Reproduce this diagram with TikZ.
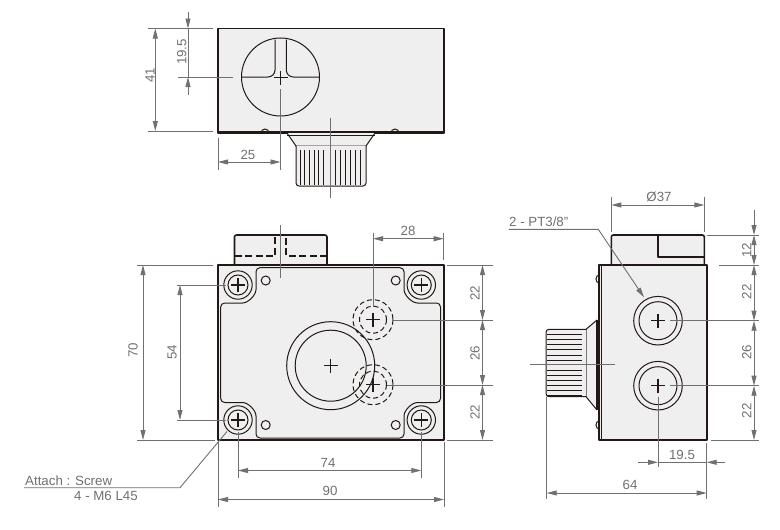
\documentclass[tikz,border=0pt]{standalone}
\usepackage{fontspec}
\setmainfont{Liberation Sans}
\usetikzlibrary{arrows.meta}
\definecolor{dimgray}{HTML}{6F7072}
\definecolor{bodygray}{HTML}{EFEFEF}
\definecolor{inkline}{HTML}{231815}
\tikzset{
  outline/.style={draw=inkline,line width=1.6pt,line join=round},
  thinline/.style={draw=inkline,line width=1pt},
  dimline/.style={draw=dimgray,line width=0.9pt,>={Stealth[length=10pt,width=5pt,inset=0pt]}},
  dimlabel/.style={text=dimgray,font=\fontsize{13.3}{15}\selectfont,inner sep=0pt},
  crosshair/.style={draw=inkline,line width=1.3pt}
}
\newcommand{\crossat}[2]{\draw[crosshair] (#1-7,#2) -- (#1+7,#2) (#1,#2-7) -- (#1,#2+7);}
\begin{document}
\begin{tikzpicture}[x=1pt,y=-1pt]
  \useasboundingbox (0,0) rectangle (780,530);
  % top view
  \draw[outline,fill=bodygray] (218,28.5) rectangle (444,133);
  \draw[outline] (218,131.5) -- (444,131.5);
  \draw[thinline] (261,133) arc[start angle=180,end angle=0,x radius=4,y radius=-4];
  \draw[thinline] (391,133) arc[start angle=180,end angle=0,x radius=4,y radius=-4];
  \draw[thinline,fill=bodygray] (287,133) -- (296,146) -- (366,146) -- (375,133);
  \draw[thinline] (287,135) -- (375,135);
  \draw[thinline,fill=bodygray,rounded corners=3pt] (296,146) -- (296,186) -- (366,186) -- (366,146);
  \foreach \xr in {300,304.7,309.4,314.1,318.8,323.5,335.5,340.5,345.5,350.5,355.5,360.5}
    \draw[draw=inkline,line width=1pt] (\xr,150) -- (\xr,185);
  \draw[thinline] (280.5,77) circle (39);
  \draw[thinline,rounded corners=7pt] (241.5,77) -- (275,77) -- (275,39.5);
  \draw[thinline,rounded corners=7pt] (319.5,77) -- (286.3,77) -- (286.3,39.5);
  \crossat{280.5}{77.5}
  % front view
  \draw[outline,fill=bodygray,rounded corners=2pt] (234.5,265) -- (234.5,235) -- (327,235) -- (327,265);
  \draw[outline,dashed,dash pattern=on 7pt off 3.5pt] (234.5,256) -- (275,256) -- (275,236);
  \draw[outline,dashed,dash pattern=on 7pt off 3.5pt] (327,256) -- (286,256) -- (286,236);
  \draw[outline,fill=bodygray] (218,265) rectangle (444,440);
  \draw[thinline,rounded corners=4pt] (256,267.7) -- (404,267.7) -- (404,285.5)
    arc[start angle=180,end angle=90,radius=17.5] -- (440.5,303) -- (440.5,402.5) -- (421.5,402.5)
    arc[start angle=270,end angle=180,radius=17.5] -- (404,438) -- (256,438) -- (256,420)
    arc[start angle=0,end angle=-90,radius=17.5] -- (220.7,402.5) -- (220.7,303) -- (238.5,303)
    arc[start angle=90,end angle=0,radius=17.5] -- cycle;
  \foreach \xs/\ys in {238/285,238/420,421.3/285,421.3/420} {
    \draw[thinline] (\xs,\ys) circle (14.2);
    \draw[thinline] (\xs,\ys) circle (10);
    \crossat{\xs}{\ys}
  }
  \foreach \xs/\ys in {265.7/280.5,395.7/280.5,265.7/425,395.7/425}
    \draw[thinline] (\xs,\ys) circle (4.5);
  \draw[thinline] (330.7,365.7) circle (44);
  \draw[thinline] (330.7,365.7) circle (35.5);
  \crossat{330.7}{365.7}
  \foreach \ys in {319.7,384.7} {
    \draw[thinline,dashed,dash pattern=on 5pt off 3pt] (373,\ys) circle (20);
    \draw[thinline,dashed,dash pattern=on 5pt off 3pt] (373,\ys) circle (13.5);
    \crossat{373}{\ys}
  }
  % right view
  \draw[outline,fill=bodygray,rounded corners=2pt] (611.3,265) -- (611.3,235) -- (704.3,235) -- (704.3,265);
  \draw[outline] (657.7,235) -- (657.7,256.7) -- (704.3,256.7);
  \draw[outline,fill=bodygray] (599,265) rectangle (707,440);
  \draw[thinline] (601.5,265) -- (601.5,440);
  \draw[thinline] (599,275) arc[start angle=-90,end angle=-270,x radius=3,y radius=4];
  \draw[thinline] (599,421) arc[start angle=-90,end angle=-270,x radius=3,y radius=4];
  \draw[thinline,fill=bodygray] (597,320) -- (586,329.3) -- (586,396.7) -- (597,410);
  \draw[outline] (597,320) -- (597,410);
  \draw[thinline,fill=bodygray,rounded corners=3pt] (586,329.3) -- (546,329.3) -- (546,396.7) -- (586,396.7);
  \foreach \yr in {334.3,339.5,344.7,349.9,355.1,360.3,370.5,375.5,380.5,385.5,390.5,395}
    \draw[draw=inkline,line width=1pt] (547,\yr) -- (581.7,\yr);
  \foreach \ys in {320.7,385.7} {
    \draw[thinline] (658,\ys) circle (24.3);
    \draw[thinline] (658,\ys) circle (19);
    \crossat{658}{\ys}
  }
  % center lines and dimensions of top view
  \draw[dimline] (148,28.5) -- (213,28.5);
  \draw[dimline] (148,131) -- (213,131);
  \draw[dimline,<->] (155.3,28.5) -- (155.3,131);
  \draw[dimline,->] (188,12) -- (188,28.5);
  \draw[dimline,<-] (188,77) -- (188,95);
  \draw[dimline] (188,28.5) -- (188,77);
  \draw[dimline] (178,77) -- (233,77);
  \draw[dimline] (280.5,89) -- (280.5,170);
  \draw[dimline] (218,138) -- (218,170);
  \draw[dimline,<->] (218,162) -- (280.5,162);
  \draw[dimline] (330,118) -- (330,198);
  \node[dimlabel,rotate=90] (lblH) at (150,75) {41};
  \node[dimlabel,rotate=90] (lblS) at (181.7,52) {19.5};
  \node[dimlabel] (lblT) at (248,155) {25};
  % dimensions of front view
  \draw[dimline] (280.3,225) -- (280.3,277.7);
  \draw[dimline] (137,265) -- (213,265);
  \draw[dimline] (137,440) -- (215,440);
  \draw[dimline,<->] (143,265) -- (143,440);
  \draw[dimline] (177,285) -- (226,285);
  \draw[dimline] (177,420) -- (226,420);
  \draw[dimline,<->] (180,285) -- (180,420);
  \node[dimlabel,rotate=90] (lblW) at (133,350) {70};
  \node[dimlabel,rotate=90] (lblP) at (172,352) {54};
  \draw[dimline] (373,233) -- (373,307);
  \draw[dimline] (443.7,233) -- (443.7,260);
  \draw[dimline,<->] (373,238.7) -- (443.7,238.7);
  \node[dimlabel] (lblR) at (408,230.5) {28};
  \draw[dimline] (447,265) -- (493,265);
  \draw[dimline] (393,320) -- (493,320);
  \draw[dimline] (387,385) -- (493,385);
  \draw[dimline] (447,440) -- (493,440);
  \draw[dimline,<->] (482.5,265) -- (482.5,320);
  \draw[dimline,<->] (482.5,320) -- (482.5,385);
  \draw[dimline,<->] (482.5,385) -- (482.5,440);
  \node[dimlabel,rotate=90] (lblA) at (475,293) {22};
  \node[dimlabel,rotate=90] (lblB) at (475,353) {26};
  \node[dimlabel,rotate=90] (lblC) at (475,412) {22};
  \draw[dimline] (238,432) -- (238,478);
  \draw[dimline] (421.3,432) -- (421.3,478);
  \draw[dimline,<->] (238,470.5) -- (421.3,470.5);
  \node[dimlabel] (lblD) at (328,463) {74};
  \draw[dimline] (218,442) -- (218,507);
  \draw[dimline] (444,442) -- (444,507);
  \draw[dimline,<->] (218,499.5) -- (444,499.5);
  \node[dimlabel] (lblE) at (330,491) {90};
  \draw[dimline] (24,487.7) -- (180,487.7) -- (227,431.5);
  \node[dimlabel,anchor=west] (lblScrew) at (25,481) {Attach : Screw};
  \node[dimlabel,anchor=west] (lblBolt) at (74,496) {4 - M6 L45};
  % dimensions of right view
  \draw[dimline] (611.3,196.7) -- (611.3,231.7);
  \draw[dimline] (704.3,196.7) -- (704.3,231.7);
  \draw[dimline,<->] (611.3,205) -- (704.3,205);
  \node[dimlabel] (lblBore) at (659,197) {Ø37};
  \draw[dimline,->] (508.7,229.3) -- (598.3,229.3) -- (644,297.3);
  \node[dimlabel,anchor=west] (lblPort) at (509,221.5) {2 - PT3/8"};
  \draw[dimline] (530,364.3) -- (615,364.3);
  \draw[dimline] (670,320.7) -- (759,320.7);
  \draw[dimline] (670,385.7) -- (759,385.7);
  \draw[dimline] (719,265) -- (759,265);
  \draw[dimline] (706.7,235) -- (759,235);
  \draw[dimline] (711,440) -- (759,440);
  \draw[dimline,->] (754,210) -- (754,235);
  \draw[dimline,<->] (754,235) -- (754,265);
  \draw[dimline,<->] (754,265) -- (754,320.7);
  \draw[dimline,<->] (754,320.7) -- (754,385.7);
  \draw[dimline,<->] (754,385.7) -- (754,440);
  \node[dimlabel,rotate=90] (lblQ) at (746.7,250) {12};
  \node[dimlabel,rotate=90] (lblF) at (746.7,291.7) {22};
  \node[dimlabel,rotate=90] (lblG) at (746.7,352) {26};
  \node[dimlabel,rotate=90] (lblI) at (746.7,410.7) {22};
  \draw[dimline] (658,397) -- (658,467);
  \draw[dimline] (706.7,443) -- (706.7,499);
  \draw[dimline,->] (638,462.3) -- (658,462.3);
  \draw[dimline] (658,462.3) -- (706.7,462.3);
  \draw[dimline,->] (725,462.3) -- (706.7,462.3);
  \node[dimlabel] (lblJ) at (682,455) {19.5};
  \draw[dimline] (546.7,397) -- (546.7,499);
  \draw[dimline,<->] (546.7,493) -- (706.7,493);
  \node[dimlabel] (lblK) at (630,485) {64};
\end{tikzpicture}
\end{document}
